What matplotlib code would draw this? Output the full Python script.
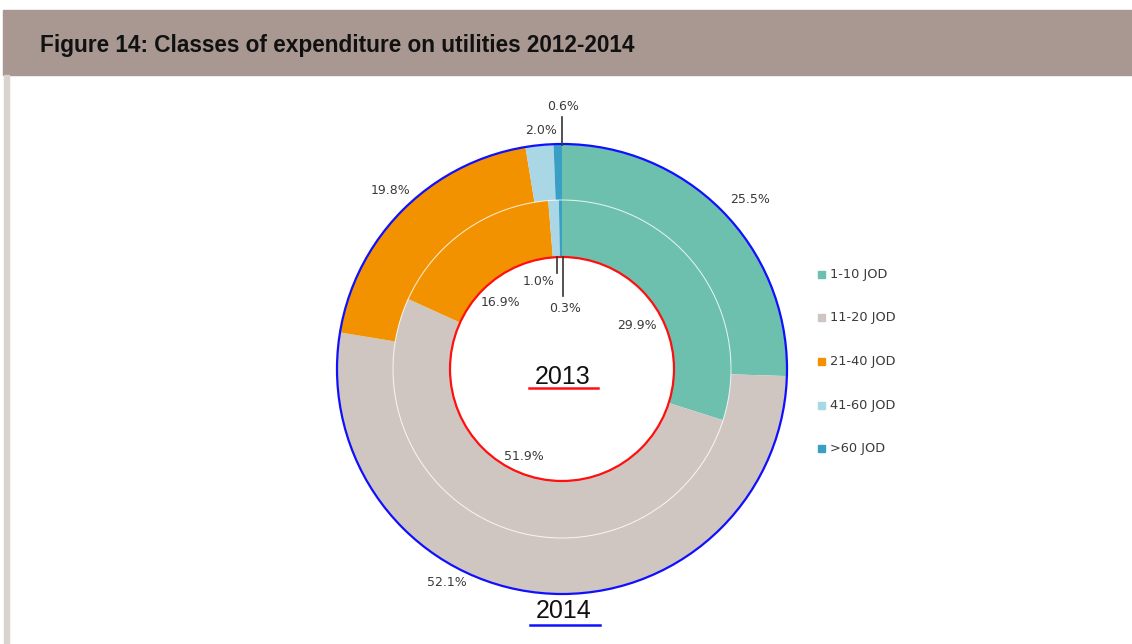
import matplotlib.pyplot as plt
from matplotlib.patches import Rectangle, Circle

# data: share of households by class of expenditure on utilities
classes = ['1-10 JOD', '11-20 JOD', '21-40 JOD', '41-60 JOD', '>60 JOD']
share_2014 = [25.5, 52.1, 19.8, 2.0, 0.6]
share_2013 = [29.9, 51.9, 16.9, 1.0, 0.3]
colors = ['#6cc0ad', '#cfc6c2', '#f39200', '#a9d7e5', '#3a9fc4']

# label spots (pixels from top-left) for outer (2014) and inner (2013) values
pos_2014 = [(750, 199), (447, 583), (391, 190), (541, 130), (563, 106)]
pos_2013 = [(637, 325), (524, 457), (500, 302), (539, 281), (565, 308)]

W, H = 1132, 644
fig = plt.figure(figsize=(W / 100, H / 100), dpi=100)
ax = fig.add_axes([0, 0, 1, 1])


def Y(py):
    return H - py


# header band and frame
ax.add_patch(Rectangle((3, Y(75)), W - 3, 65, color='#a89891', zorder=0))
ax.add_patch(Rectangle((4, 0), 5, Y(75), color='#d9d3cd', zorder=0))
ax.text(40, Y(52), 'Figure 14: Classes of expenditure on utilities 2012-2014',
        fontsize=16.3, fontweight='bold', family='Liberation Sans',
        color='#111111', va='baseline', ha='left')

cx, cy = 562, Y(369)
r_out, r_mid, r_in = 225, 169, 112

ax.pie(share_2014, radius=r_out, center=(cx, cy), startangle=90,
       counterclock=False, colors=colors,
       wedgeprops=dict(width=r_out - r_mid, edgecolor='none'), frame=True)
ax.pie(share_2013, radius=r_mid, center=(cx, cy), startangle=90,
       counterclock=False, colors=colors,
       wedgeprops=dict(width=r_mid - r_in, edgecolor='none'), frame=True)
ax.set_xlim(0, W)
ax.set_ylim(0, H)
ax.set_aspect('equal')
ax.axis('off')

ax.add_patch(Circle((cx, cy), r_mid, fill=False, ec='white', lw=0.8, alpha=0.7))
ax.add_patch(Circle((cx, cy), r_out, fill=False, ec='#1010ff', lw=1.6))
ax.add_patch(Circle((cx, cy), r_in, fill=False, ec='#ff1010', lw=1.6))

lab = dict(fontsize=9, color='#3a3a3a', ha='center', va='center',
           family='DejaVu Sans')
for v, (px, py) in zip(share_2014, pos_2014):
    ax.text(px, Y(py), f'{v:.1f}%', **lab)
for v, (px, py) in zip(share_2013, pos_2013):
    ax.text(px, Y(py), f'{v:.1f}%', **lab)

# leader lines for the thin slices
ax.plot([562, 562], [Y(117), Y(145)], color='#333333', lw=1.2)
ax.plot([557, 557], [Y(257), Y(273)], color='#333333', lw=1.2)
ax.plot([563, 563], [Y(257), Y(296)], color='#333333', lw=1.2)

# ring titles
ax.text(563, Y(377), '2013', fontsize=18, color='#111111', ha='center',
        va='center', family='Liberation Sans')
ax.plot([529, 598], [Y(388), Y(388)], color='#ff1010', lw=1.8)
ax.text(564, Y(611), '2014', fontsize=18, color='#111111', ha='center',
        va='center', family='Liberation Sans')
ax.plot([530, 600], [Y(625), Y(625)], color='#1010ff', lw=1.8)

# legend
for i, (name, c) in enumerate(zip(classes, colors)):
    ly = Y(274 + i * 43.7)
    ax.add_patch(Rectangle((818, ly - 3.5), 7, 7, color=c))
    ax.text(830, ly, name, fontsize=9.3, color='#3a3a3a', va='center',
            family='DejaVu Sans')

fig.savefig('out.png', dpi=100)
